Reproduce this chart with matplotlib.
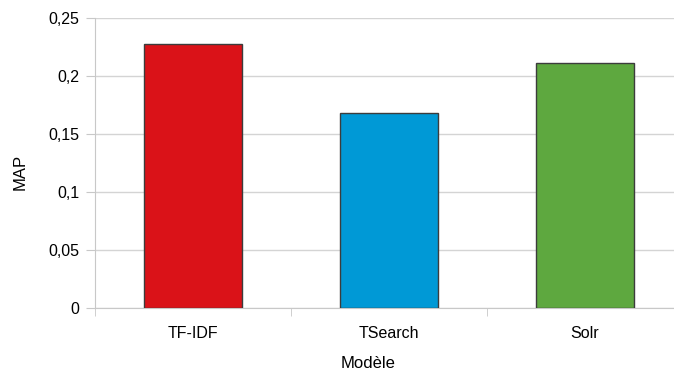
import numpy as np
import matplotlib.pyplot as plt

models = ['TF-IDF', 'TSearch', 'Solr']
map_scores = [0.228, 0.168, 0.211]
colors = ['#DA1218', '#0099D6', '#5EA83F']
yticks = [0, 0.05, 0.1, 0.15, 0.2, 0.25]
ytick_labels = ['0', '0,05', '0,1', '0,15', '0,2', '0,25']

plt.rcParams['font.family'] = ['Liberation Sans', 'DejaVu Sans']

fig = plt.figure(figsize=(6.74, 3.73), dpi=100)
ax = fig.add_axes([95/674, 65/373, 588/674, 290/373])

x = np.arange(len(models))
ax.bar(x, map_scores, width=0.5, color=colors, edgecolor='#3c3c3c', lw=1, zorder=3)

ax.set_xlim(-0.5, len(models) - 0.5)
ax.set_ylim(0, 0.25)
ax.set_yticks(yticks)
ax.set_yticklabels(ytick_labels)
ax.set_xticks(x)
ax.set_xticklabels(models)
ax.set_xticks(np.arange(len(models) + 1) - 0.5, minor=True)

ax.grid(axis='y', color='#d4d4d4', lw=1, zorder=0)
ax.tick_params(axis='y', length=6.5, color='#c8c8c8', labelsize=11.5, pad=5)
ax.tick_params(axis='x', which='major', length=0, labelsize=11.5, pad=13)
ax.tick_params(axis='x', which='minor', length=6, color='#c8c8c8')

for side in ['top', 'right']:
    ax.spines[side].set_visible(False)
for side in ['left', 'bottom']:
    ax.spines[side].set_color('#c8c8c8')

ax.set_ylabel('MAP', fontsize=12, va='center')
ax.yaxis.set_label_coords(-0.1276, 0.469)
ax.set_xlabel('Modèle', fontsize=12, va='center')
ax.xaxis.set_label_coords(0.464, -0.19)

fig.savefig('out.png', dpi=100)
